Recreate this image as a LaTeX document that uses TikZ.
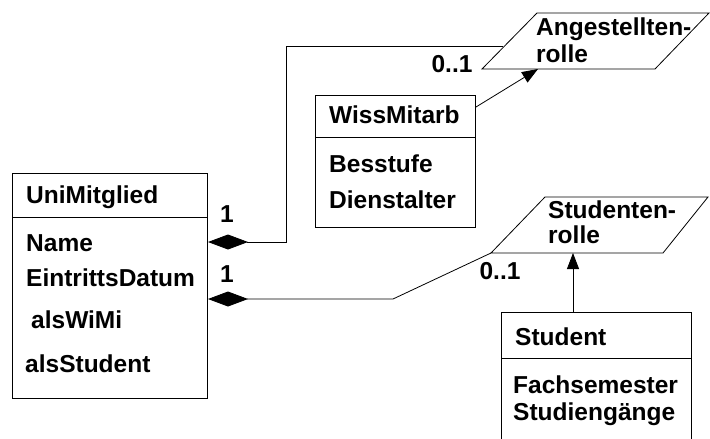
\documentclass[tikz,border=0pt]{standalone}
\usepackage{fontspec}
\setmainfont{Liberation Sans}
\usepackage{tikz}
\usetikzlibrary{arrows.meta, calc}

\newcommand{\umlfont}{\fontsize{24.5}{28}\selectfont\bfseries}
\tikzset{
	umlbox/.style={draw, line width=1pt, anchor=north west, inner sep=0pt},
	umltext/.style={anchor=base west, inner sep=0pt, font=\umlfont},
	multtext/.style={anchor=base, inner sep=0pt, font=\umlfont},
	conn/.style={line width=0.8pt},
	genarrow/.style={conn, -{Triangle[length=16pt,width=12pt]}},
	comparrow/.style={conn, {Diamond[length=40pt,width=15pt]}-}
}

\begin{document}
\begin{tikzpicture}[x=1pt,y=-1pt]
	\useasboundingbox (0,0) rectangle (710,439);
	\clip (0,0) rectangle (710,439);

	% Klassen
	\node[umlbox, minimum width=195pt, minimum height=225pt] (uni) at (12,173) {};
	\draw[line width=1pt] (uni.west |- 0,217) -- (uni.east |- 0,217);
	\node[umltext] (uniTitle) at (26,203) {UniMitglied};
	\node[umltext] (uniA) at (26,251) {Name};
	\node[umltext] (uniB) at (26,286) {EintrittsDatum};
	\node[umltext] (uniC) at (31,328) {alsWiMi};
	\node[umltext] (uniD) at (25,372) {alsStudent};

	\node[umlbox, minimum width=160pt, minimum height=132pt] (wiss) at (315,95) {};
	\draw[line width=1pt] (wiss.west |- 0,137) -- (wiss.east |- 0,137);
	\node[umltext] (wissTitle) at (329,123) {WissMitarb};
	\node[umltext] (wissA) at (329,172) {Besstufe};
	\node[umltext] (wissB) at (329,208) {Dienstalter};

	\node[umlbox, minimum width=190pt, minimum height=135pt] (stud) at (501,312) {};
	\draw[line width=1pt] (stud.west |- 0,358) -- (stud.east |- 0,358);
	\node[umltext] (studTitle) at (515,345) {Student};
	\node[umltext] (studA) at (513,393) {Fachsemester};
	\node[umltext] (studB) at (513,420) {Studiengänge};

	% Rollen
	\coordinate (angBL) at (482,69);
	\draw[conn] (angBL) -- (537,13) -- (709,13) -- (655,69) -- cycle;
	\node[umltext] (angText) at (536,35) {Angestellten-};
	\node[umltext] (angText2) at (536,62) {rolle};

	\coordinate (stuBL) at (491,253);
	\draw[conn] (stuBL) -- (545,197) -- (708,197) -- (663,253) -- cycle;
	\node[umltext] (stuText) at (548,218) {Studenten-};
	\node[umltext] (stuText2) at (548,243) {rolle};

	% Verbindungen
	\coordinate (angIn) at (503,46);
	\coordinate (angFoot) at (538,69);
	\coordinate (stuFoot) at (573,253);
	\draw[comparrow] (uni.east |- 0,242) -| (286,46) -- (angIn);
	\draw[comparrow] (uni.east |- 0,299) -- (393,299) -- (stuBL);
	\draw[genarrow] (wiss.east |- 0,107) -- (angFoot);
	\draw[genarrow] (stud.north -| stuFoot) -- (stuFoot);

	\node[multtext] (m1) at (227,222) {1};
	\node[multtext] (m2) at (452,72) {0..1};
	\node[multtext] (m3) at (227,282) {1};
	\node[multtext] (m4) at (500,279) {0..1};
\end{tikzpicture}
\end{document}
